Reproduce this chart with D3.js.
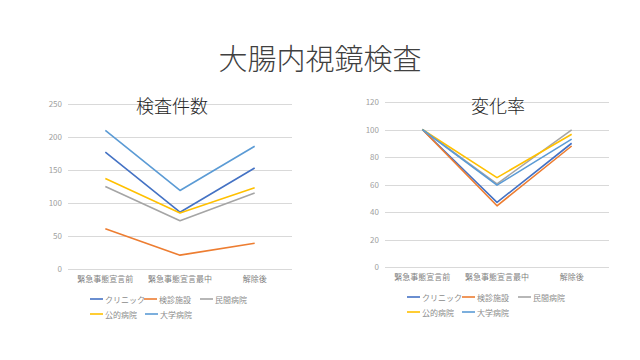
<!DOCTYPE html>
<html><head><meta charset="utf-8">
<script src="https://cdn.jsdelivr.net/npm/d3@7"></script>
<style>
body{margin:0;background:#fff;}
text{font-family:"Noto Sans CJK JP","Noto Sans",sans-serif;}
</style></head>
<body><svg id="c" width="640" height="360"></svg>
<script>
const categories = ["緊急事態宣言前","緊急事態宣言最中","解除後"];
const seriesNames = ["クリニック","検診施設","民間病院","公的病院","大学病院"];
const seriesColors = ["#4472C4","#ED7D31","#A5A5A5","#FFC000","#5B9BD5"];
const countValues = [
  [177, 86, 153],
  [61, 21, 39],
  [125, 73, 115],
  [137, 85, 123],
  [210, 119, 186]
];
const rateValues = [
  [100, 47, 90],
  [100, 44.5, 88],
  [100, 60.5, 99.7],
  [100, 65, 96.5],
  [100, 59.5, 93]
];
const countTicks = [0,50,100,150,200,250];
const rateTicks = [0,20,40,60,80,100,120];

const svg = d3.select("#c");
svg.append("text").attr("x",320).attr("y",57).attr("text-anchor","middle")
  .attr("dominant-baseline","central").attr("font-size",29).attr("font-weight",300)
  .attr("fill","#404040").text("大腸内視鏡検査");

function chart(opt){
  const g = svg.append("g");
  const x = d3.scaleBand().domain(categories).range([opt.x0,opt.x1]);
  const y = d3.scaleLinear().domain([0,opt.max]).range([opt.yb,opt.yt]);
  g.selectAll(".grid").data(opt.ticks).join("line")
    .attr("x1",opt.x0).attr("x2",opt.x1)
    .attr("y1",d=>Math.round(y(d))+0.5).attr("y2",d=>Math.round(y(d))+0.5)
    .attr("stroke","#d9d9d9").attr("stroke-width",1);
  const ya = d3.axisLeft(y).tickValues(opt.ticks).tickSize(0).tickPadding(0);
  const yg = g.append("g").attr("transform",`translate(${opt.yl},0)`).call(ya);
  yg.select(".domain").remove();
  yg.selectAll("text").attr("font-size",8).attr("fill","#a0a0a0")
    .attr("font-family","'Noto Sans','DejaVu Sans',sans-serif");
  const xa = d3.axisBottom(x).tickSize(0).tickPadding(0);
  const xg = g.append("g").attr("transform",`translate(0,${opt.yb+7})`).call(xa);
  xg.select(".domain").remove();
  xg.selectAll("text").attr("font-size",8).attr("fill","#7f7f7f");
  g.append("text").attr("x",opt.tx).attr("y",opt.ty).attr("text-anchor","middle")
    .attr("dominant-baseline","central").attr("font-size",18).attr("font-weight",300)
    .attr("fill","#262626").text(opt.title);
  const line = d3.line().x((d,i)=>x(categories[i])+x.bandwidth()/2).y(d=>y(d));
  opt.data.forEach((s,i)=>{
    g.append("path").datum(s).attr("d",line).attr("fill","none")
      .attr("stroke",seriesColors[i]).attr("stroke-width",1.6)
      .attr("stroke-linejoin","round");
  });
  const pos = opt.legend;
  seriesNames.forEach((n,i)=>{
    const p = pos[i];
    g.append("line").attr("x1",p[0]).attr("x2",p[0]+13).attr("y1",p[1]).attr("y2",p[1])
      .attr("stroke",seriesColors[i]).attr("stroke-width",1.6);
    g.append("text").attr("x",p[0]+15).attr("y",p[1]).attr("dominant-baseline","central")
      .attr("font-size",8).attr("fill","#8c8c8c").text(n);
  });
}

chart({x0:68,x1:292,yb:269,yt:104,max:250,ticks:countTicks,yl:62,tx:172,ty:105,
  title:"検査件数",data:countValues,
  legend:[[90,299],[144,299],[200,299],[90,314],[145,314]]});
chart({x0:385,x1:609,yb:267,yt:102,max:120,ticks:rateTicks,yl:379,tx:498,ty:105,
  title:"変化率",data:rateValues,
  legend:[[407,297],[462,297],[518,297],[407,312],[462,312]]});
</script></body></html>
